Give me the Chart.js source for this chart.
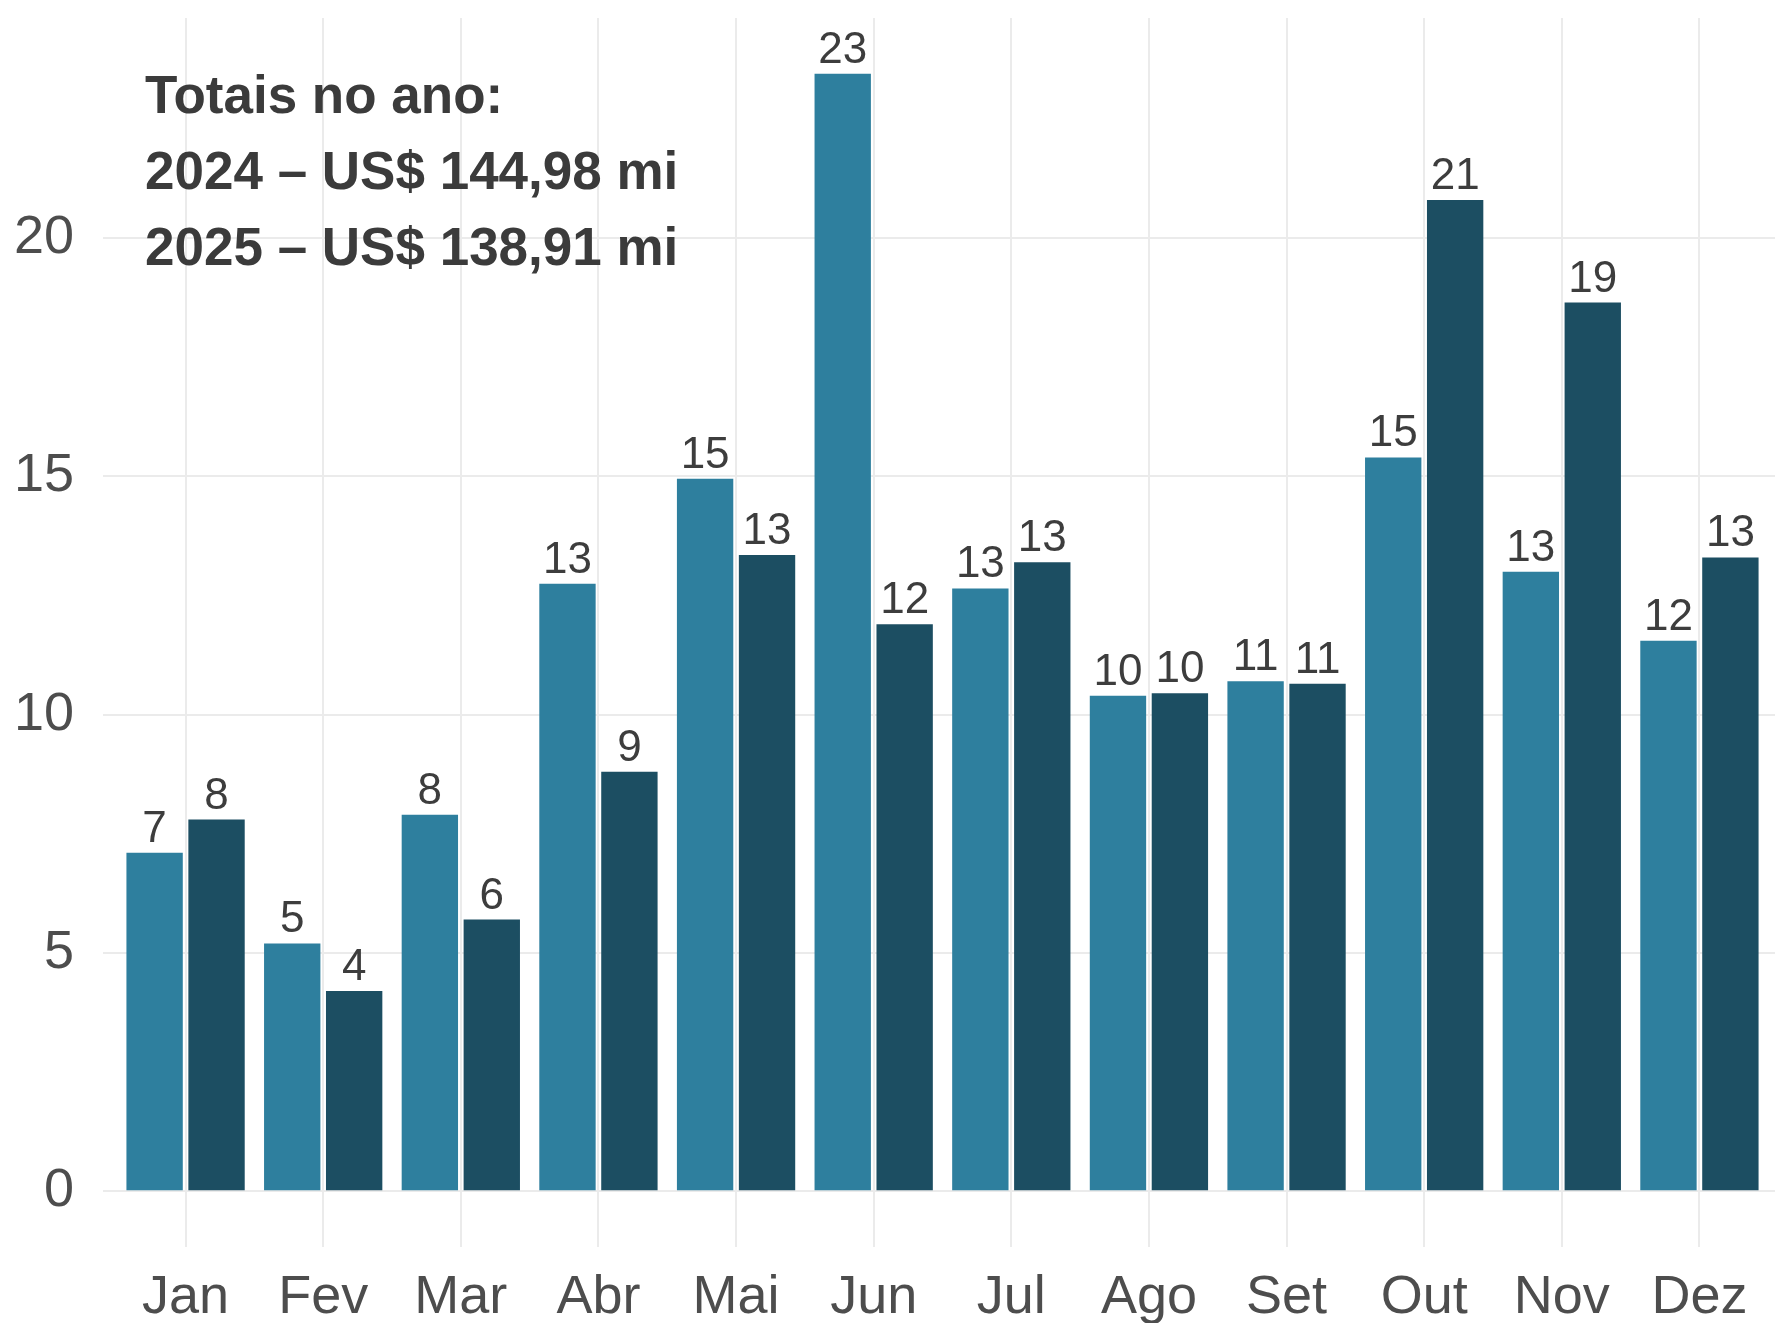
<!DOCTYPE html>
<html lang="pt-BR">
<head>
<meta charset="utf-8">
<title>Exportações mensais 2024 x 2025</title>
<script src="https://cdn.jsdelivr.net/npm/chart.js@4.4.1/dist/chart.umd.min.js"></script>
<style>
  html, body { margin: 0; padding: 0; background: #ffffff; overflow: hidden; }
  /* the plot panel runs a few px past the right edge, as in the original */
  #wrap { width: 1775px; height: 1323px; overflow: hidden; }
</style>
</head>
<body>
<div id="wrap"><canvas id="mainChart" width="1782" height="1323"></canvas></div>
<script>
/* ── Data ── */
const months   = ['Jan', 'Fev', 'Mar', 'Abr', 'Mai', 'Jun', 'Jul', 'Ago', 'Set', 'Out', 'Nov', 'Dez'];
const vals2024 = [7.1, 5.2, 7.9, 12.75, 14.95, 23.45, 12.65, 10.4, 10.7, 15.4, 13.0, 11.55];
const vals2025 = [7.8, 4.2, 5.7, 8.8, 13.35, 11.9, 13.2, 10.45, 10.65, 20.8, 18.65, 13.3];
const yTicks   = [0, 5, 10, 15, 20];
const noteLines = ['Totais no ano:', '2024 – US$ 144,98 mi', '2025 – US$ 138,91 mi'];

/* ── Look ── */
const COLOR_2024 = '#2e7f9e';
const COLOR_2025 = '#1c4e62';
const GRID       = '#ebebeb';
const FONT       = "'Liberation Sans', Arial, sans-serif";

Chart.defaults.font.family = FONT;
Chart.defaults.color = '#4d4d4d';

// ggplot-like expansion: 0.6 category on each side, 5% on the value axis
const yMax = Math.max(...vals2024, ...vals2025);
const yPad = yMax * 0.05;

/* ── Value labels over bars ── */
const barLabels = {
  id: 'barLabels',
  afterDatasetsDraw(chart) {
    const ctx = chart.ctx;
    ctx.save();
    ctx.font = `44px ${FONT}`;
    ctx.fillStyle = '#3d3d3d';
    ctx.textAlign = 'center';
    ctx.textBaseline = 'alphabetic';
    chart.data.datasets.forEach((ds, di) => {
      chart.getDatasetMeta(di).data.forEach((bar, i) => {
        ctx.fillText(String(Math.round(ds.data[i].y)), bar.x, bar.y - 11);
      });
    });
    ctx.restore();
  }
};

/* ── Totals note ── */
const totalsNote = {
  id: 'totalsNote',
  afterDraw(chart) {
    const ctx = chart.ctx;
    ctx.save();
    ctx.font = `bold 53px ${FONT}`;
    ctx.fillStyle = '#3b3b3b';
    ctx.textAlign = 'left';
    ctx.textBaseline = 'alphabetic';
    noteLines.forEach((line, i) => ctx.fillText(line, 145, 113 + i * 76));
    ctx.restore();
  }
};

// no extra room around the axes, the layout is fixed by hand
const noAxisPad = s => {
  s.paddingTop = 0;
  s.paddingBottom = 0;
  s.paddingLeft = 0;
  s.paddingRight = 0;
};

/* ── Chart ── */
const ctx = document.getElementById('mainChart').getContext('2d');

new Chart(ctx, {
  type: 'bar',
  data: {
    datasets: [
      {
        label: '2024',
        data: vals2024.map((v, i) => ({ x: i, y: v })),
        backgroundColor: COLOR_2024
      },
      {
        label: '2025',
        data: vals2025.map((v, i) => ({ x: i, y: v })),
        backgroundColor: COLOR_2025
      }
    ]
  },
  options: {
    responsive: false,
    animation: false,
    categoryPercentage: 0.9,
    barPercentage: 0.91,
    layout: { padding: { top: 18, left: 0, right: 0, bottom: 0 } },
    plugins: {
      legend: { display: false },
      tooltip: { enabled: false }
    },
    scales: {
      x: {
        type: 'linear',
        offset: false,
        min: -0.6,
        max: months.length - 1 + 0.6,
        grid: { color: GRID, lineWidth: 2, drawTicks: false, offset: false },
        border: { display: false },
        afterBuildTicks: s => { s.ticks = months.map((m, i) => ({ value: i })); },
        afterFit: s => { s.height = 76; noAxisPad(s); },
        ticks: {
          autoSkip: false,
          maxRotation: 0,
          padding: 19,
          font: { size: 54 },
          color: '#4d4d4d',
          callback: v => months[v]
        }
      },
      y: {
        min: -yPad,
        max: yMax + yPad,
        grid: { color: GRID, lineWidth: 2, drawTicks: false },
        border: { display: false },
        afterBuildTicks: s => { s.ticks = yTicks.map(v => ({ value: v })); },
        afterFit: s => { s.width = 103; noAxisPad(s); },
        ticks: {
          padding: 29,
          font: { size: 54 },
          color: '#4d4d4d'
        }
      }
    }
  },
  plugins: [barLabels, totalsNote]
});
</script>
</body>
</html>
